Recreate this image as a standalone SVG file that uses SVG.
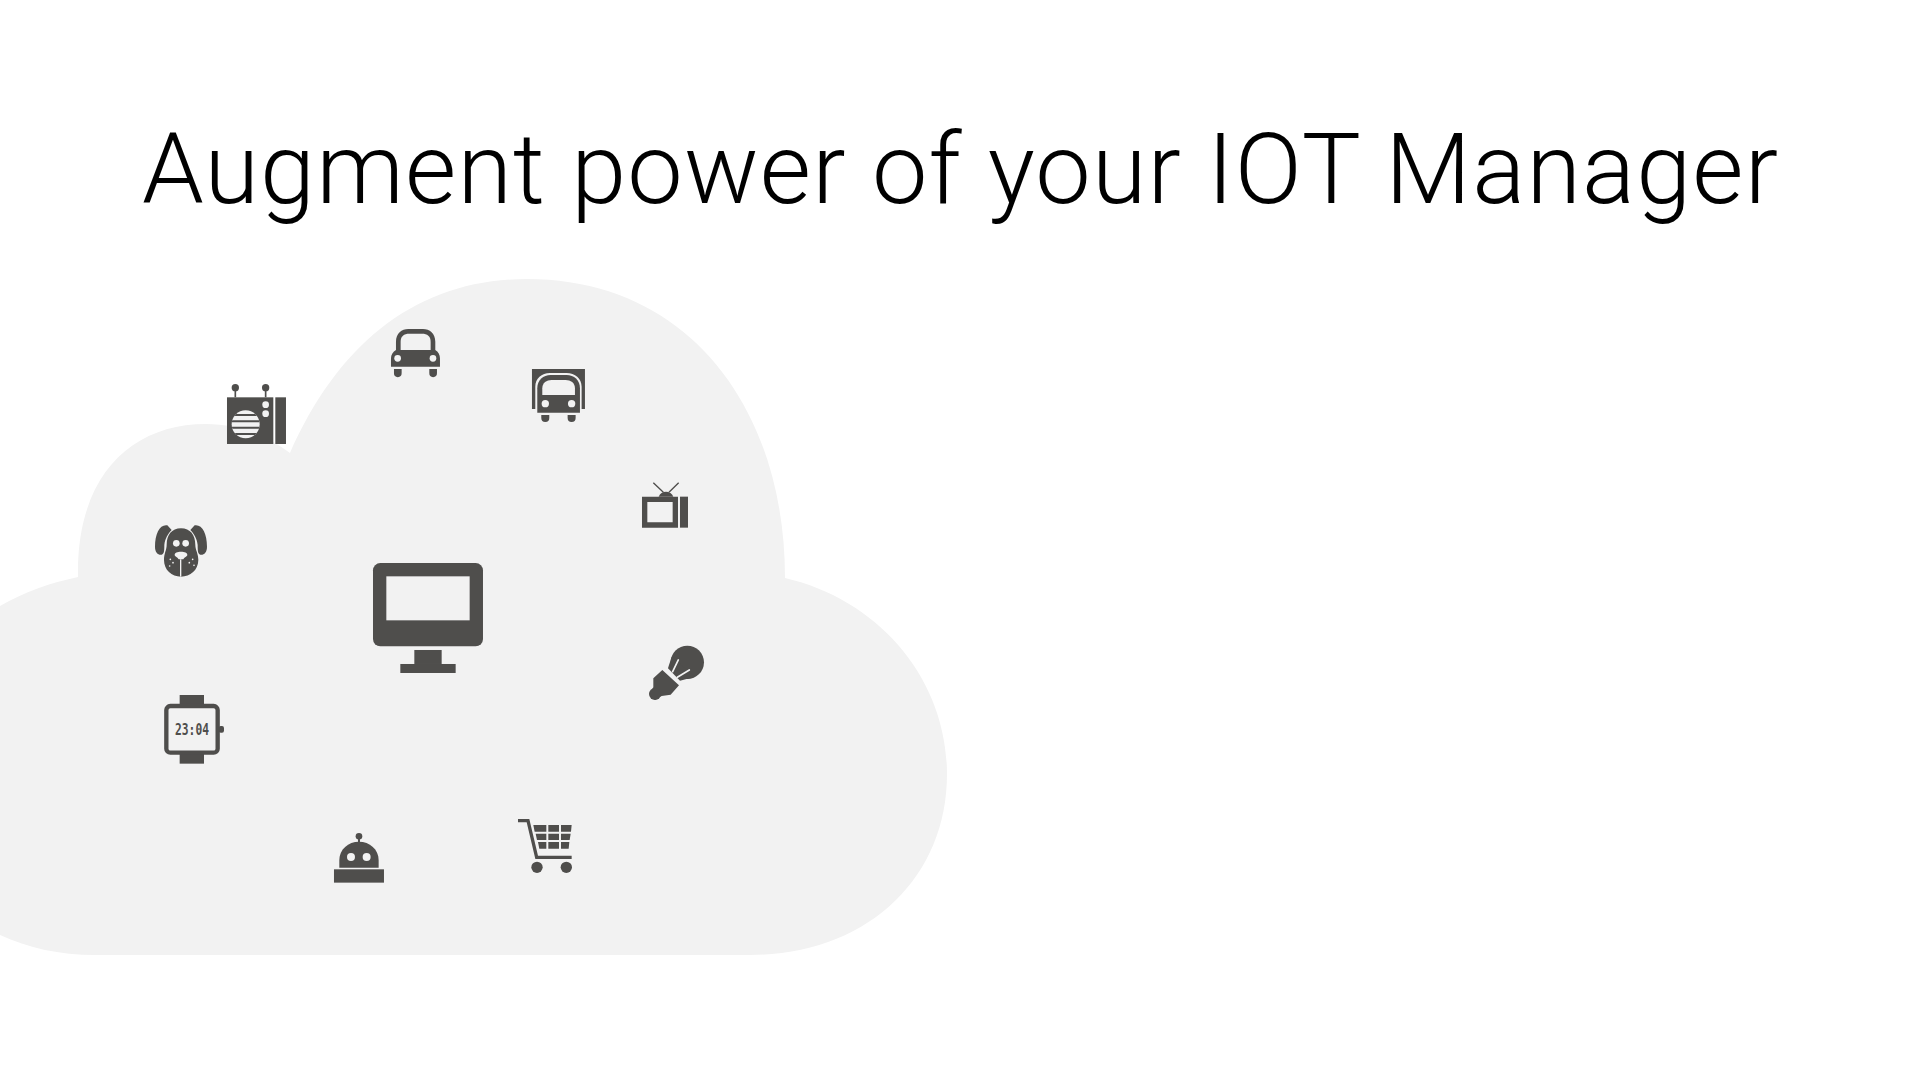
<svg xmlns="http://www.w3.org/2000/svg" width="1920" height="1080" viewBox="0 0 1920 1080">
<style>
.d{fill:#4f4e4c}
.l{fill:#f2f2f2}
.s{stroke:#4f4e4c;fill:none}
.w{stroke:#f2f2f2;fill:none}
text.t{font-family:"Roboto","Liberation Sans",sans-serif;font-weight:300;font-size:99px;fill:#000}
text.c{font-family:"DejaVu Sans Mono",monospace;font-weight:700;font-size:46px;fill:#4f4e4c}
</style>
<defs><clipPath id="sp"><circle cx="347" cy="373" r="42"/></clipPath></defs>
<rect width="1920" height="1080" fill="#fff"/>
<path id="cloud" class="l" d="M0 606C24 592 50 583 78 577C76 475 132 424 206 424C240 424 268 436 290 453C340 340 420 279 527 279C690 279 785 410 785 578C880 600 947 680 947 774C947 880 865 955 750 955L95 955C60 955 28 948 0 935Z"/>
<text id="title" class="t" x="142" y="202.500" textLength="1636" lengthAdjust="spacing">Augment power of your IOT Manager</text>
<g id="radio" transform="translate(130 300) scale(.3333)">
<rect class="d" x="291" y="292" width="139" height="140"/><rect class="d" x="436" y="292" width="32" height="140"/>
<circle class="d" cx="316" cy="263" r="11"/><circle class="d" cx="407" cy="263" r="11"/>
<path class="s" stroke-width="5" d="M316 263V292M407 263V292"/>
<circle class="l" cx="407" cy="314" r="10"/><circle class="l" cx="407" cy="341" r="10"/>
<circle class="l" cx="347" cy="373" r="42"/>
<path class="s" stroke-width="6" clip-path="url(#sp)" d="M300 345H395M300 364H395M300 383H395M300 402H395"/>
</g>
<g id="car" transform="translate(130 300) scale(.3333)">
<path class="d" d="M798 150V125C798 100 815 87 835 87H879C899 87 916 100 916 125V150C925 155 930 165 930 175V200H783V175C783 165 789 155 798 150Z"/>
<path class="l" d="M812 150V125C812 108 822 101 838 101H876C892 101 902 108 902 125V150Z"/>
<circle class="l" cx="803" cy="175" r="10"/><circle class="l" cx="909" cy="175" r="10"/>
<path class="d" d="M792 207H815V220A11.500 11.500 0 0 1 792 220ZM898 207H921V220A11.500 11.500 0 0 1 898 220Z"/>
</g>
<g id="truck" transform="translate(130 300) scale(.3333)">
<path class="d" d="M1206 207H1365V327H1355V260C1355 235 1335 219 1310 219H1260C1235 219 1216 235 1216 260V327H1206Z"/>
<path class="d" d="M1222 338V265C1222 240 1240 225 1262 225H1310C1332 225 1350 240 1350 265V338Z"/>
<path class="l" d="M1237 285V265C1237 248 1250 240 1265 240H1307C1322 240 1335 248 1335 265V285Z"/>
<circle class="l" cx="1246" cy="311" r="11"/><circle class="l" cx="1325" cy="311" r="11"/>
<path class="d" d="M1234 345H1258V354A12 12 0 0 1 1234 354ZM1313 345H1337V354A12 12 0 0 1 1313 354Z"/>
</g>
<g id="dog" transform="translate(130 300) scale(.3333)">
<path class="d" d="M112 676C90 672 75 700 75 740C75 758 85 766 95 764C103 762 103 750 103 735C105 715 115 700 125 690Z"/>
<path class="d" d="M194 676C216 672 231 700 231 740C231 758 221 766 211 764C203 762 203 750 203 735C201 715 191 700 181 690Z"/>
<path class="d" d="M153 685C125 685 110 705 110 735C110 750 102 760 102 780C102 810 125 830 153 830C181 830 205 810 205 780C205 760 196 750 196 735C196 705 181 685 153 685Z"/>
<circle class="l" cx="139" cy="730" r="10"/><circle class="l" cx="167" cy="730" r="10"/>
<path class="l" d="M134 765C134 758 142 755 153 755C164 755 172 758 172 765C172 770 162 772 160 778H146C144 772 134 770 134 765Z"/>
<path class="w" stroke-width="4" d="M152 778V830"/>
<g class="l"><circle cx="121" cy="778" r="2.500"/><circle cx="129" cy="788" r="2.500"/><circle cx="119" cy="798" r="2.500"/><circle cx="178" cy="788" r="2.500"/><circle cx="188" cy="778" r="2.500"/><circle cx="192" cy="796" r="2.500"/></g>
</g>
<g id="tv" transform="translate(600 450) scale(.3333)">
<path class="d" d="M126 140H234V233H126ZM142 156V217H218V156Z" fill-rule="evenodd"/>
<rect class="d" x="240" y="140" width="24" height="93"/>
<path class="s" stroke-width="4" d="M160 98L190 127M236 98L207 127"/>
<path class="d" d="M176 140C180 130 188 125 198 125C208 125 216 130 220 140Z"/>
</g>
<g id="bulb" transform="translate(600 450) scale(.3333)">
<circle class="d" cx="262" cy="637" r="50"/>
<path class="d" d="M215 620L204 655L240 692L285 680Z"/>
<path class="w" stroke-width="5" stroke-linecap="round" d="M235 630L218 665M268 660L232 682"/>
<path class="d" d="M187 660L237 706L212 734L185 738L165 750L148 730L160 712L160 685Z"/>
<circle class="d" cx="165" cy="732" r="18"/>
</g>
<g id="monitor" transform="translate(360 550) scale(.3333)">
<rect class="d" x="39" y="39" width="330" height="250" rx="22"/>
<rect class="l" x="79" y="79" width="250" height="132"/>
<rect class="d" x="163" y="300" width="82" height="42"/>
<rect class="d" x="121" y="342" width="166" height="27"/>
</g>
<g id="watch" transform="translate(140 680) scale(.3333)">
<rect class="d" x="119" y="45" width="73" height="30"/><rect class="d" x="119" y="221" width="73" height="30"/>
<rect x="79" y="78" width="154" height="140" rx="12" fill="#f2f2f2" stroke="#4f4e4c" stroke-width="13"/>
<rect class="d" x="236" y="138" width="16" height="20" rx="6"/>
<text class="c" x="156" y="166" text-anchor="middle" textLength="102" lengthAdjust="spacingAndGlyphs">23:04</text>
</g>
<g id="robot" transform="translate(140 680) scale(.3333)">
<circle class="d" cx="657" cy="469" r="10"/><rect class="d" x="654" y="475" width="6" height="14"/>
<path class="d" d="M598 563V540C598 508 625 485 657 485C689 485 716 508 716 540V563Z"/>
<circle class="l" cx="633" cy="531" r="12"/><circle class="l" cx="680" cy="531" r="12"/>
<rect class="d" x="582" y="568" width="150" height="40"/>
</g>
<g id="cart" transform="translate(500 800) scale(.3333)">
<path class="s" stroke-width="10" d="M54 62H84L110 172H215"/>
<path class="d" d="M100 75H139V95H104ZM145 75H177V95H145ZM183 75H215L213 95H183ZM107 101H139V120H111ZM145 101H177V120H145ZM183 101H212L209 120H183ZM114 126H139V146H118ZM145 126H177V146H145ZM183 126H208L206 146H183Z"/>
<circle class="d" cx="111" cy="202" r="17"/><circle class="d" cx="199" cy="202" r="17"/>
</g>
</svg>
